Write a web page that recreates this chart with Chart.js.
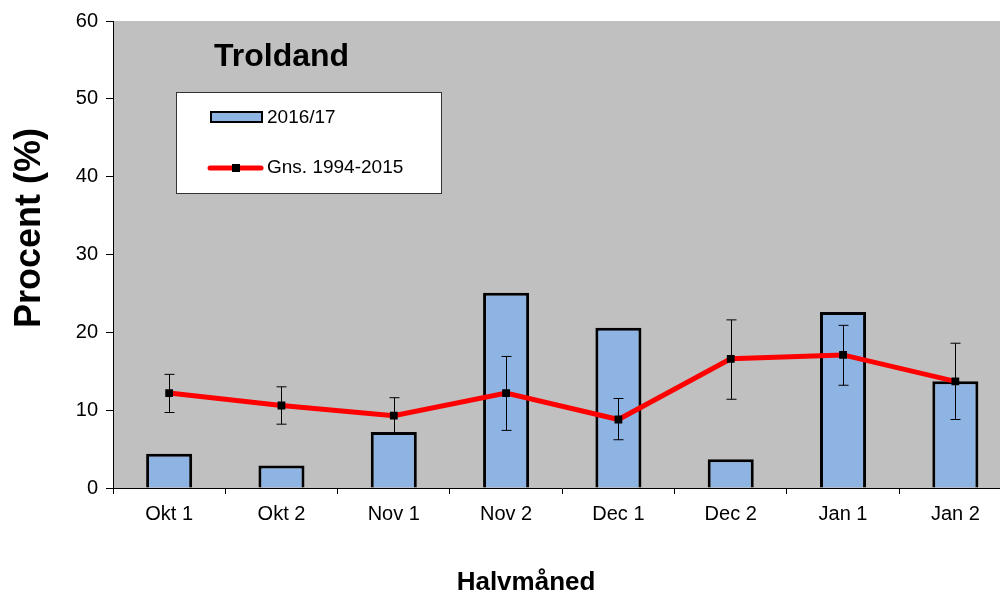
<!DOCTYPE html>
<html>
<head>
<meta charset="utf-8">
<script src="https://cdn.jsdelivr.net/npm/chart.js@4/dist/chart.umd.min.js"></script>
<style>
  html, body { margin: 0; padding: 0; background: #fff; overflow: hidden; }
  #wrap { width: 1017px; height: 593px; }
</style>
</head>
<body>
<div id="wrap"><canvas id="chart" width="1017" height="593"></canvas></div>
<script>
const halvmaaneder = ["Okt 1", "Okt 2", "Nov 1", "Nov 2", "Dec 1", "Dec 2", "Jan 1", "Jan 2"];
const saeson = [4.4, 2.9, 7.2, 25.1, 20.6, 3.7, 22.6, 13.7];
const gennemsnit = [12.2, 10.6, 9.3, 12.2, 8.8, 16.6, 17.1, 13.7];
const fejlLav = [9.7, 8.2, 6.9, 7.4, 6.2, 11.4, 13.2, 8.8];
const fejlHoj = [14.6, 13.0, 11.6, 16.9, 11.5, 21.6, 20.9, 18.6];

const font = "'Liberation Sans', Arial, sans-serif";

// grå baggrund i plotområdet
const baggrund = {
  id: 'baggrund',
  beforeDraw(chart) {
    const { ctx, chartArea: a } = chart;
    ctx.save();
    ctx.fillStyle = '#c0c0c0';
    ctx.fillRect(a.left, a.top, a.right - a.left, a.bottom - a.top);
    ctx.restore();
  }
};

// fejllinjer under linjen
const fejllinjer = {
  id: 'fejllinjer',
  beforeDatasetDraw(chart, args) {
    if (args.index !== 1) return;
    const { ctx } = chart;
    const x = chart.scales.x, y = chart.scales.y;
    ctx.save();
    ctx.strokeStyle = '#000';
    ctx.lineWidth = 1;
    fejlLav.forEach((lav, i) => {
      const px = Math.round(x.getPixelForValue(i)) + 0.5;
      const y1 = y.getPixelForValue(lav), y2 = y.getPixelForValue(fejlHoj[i]);
      ctx.beginPath();
      ctx.moveTo(px, y1); ctx.lineTo(px, y2);
      ctx.moveTo(px - 5, y1); ctx.lineTo(px + 5, y1);
      ctx.moveTo(px - 5, y2); ctx.lineTo(px + 5, y2);
      ctx.stroke();
    });
    ctx.restore();
  }
};

// titler og forklaring
const forklaring = {
  id: 'forklaring',
  afterDraw(chart) {
    const { ctx } = chart;
    const ds = chart.data.datasets;
    ctx.save();
    ctx.fillStyle = '#000';
    ctx.font = 'bold 32px ' + font;
    ctx.textBaseline = 'alphabetic';
    ctx.fillText('Troldand', 214, 66);

    // aksetitler
    ctx.font = 'bold 26px ' + font;
    ctx.textAlign = 'center';
    ctx.fillText('Halvmåned', 526, 590);
    ctx.save();
    ctx.translate(40, 228);
    ctx.rotate(-Math.PI / 2);
    ctx.font = 'bold 36px ' + font;
    ctx.fillText('Procent (%)', 0, 0);
    ctx.restore();
    ctx.textAlign = 'left';

    ctx.fillStyle = '#fff';
    ctx.fillRect(176, 92, 265, 101);
    ctx.strokeStyle = '#333';
    ctx.lineWidth = 1;
    ctx.strokeRect(176.5, 92.5, 265, 101);

    ctx.fillStyle = ds[0].backgroundColor;
    ctx.fillRect(211, 112, 51, 10);
    ctx.strokeStyle = '#000';
    ctx.lineWidth = 2;
    ctx.strokeRect(211, 112, 51, 10);

    ctx.strokeStyle = ds[1].borderColor;
    ctx.lineWidth = 5;
    ctx.lineCap = 'round';
    ctx.beginPath();
    ctx.moveTo(210, 168); ctx.lineTo(261, 168);
    ctx.stroke();
    ctx.fillStyle = '#000';
    ctx.fillRect(232, 164, 8, 8);

    ctx.font = '19px ' + font;
    ctx.textBaseline = 'middle';
    ctx.fillText(ds[0].label, 267, 118);
    ctx.fillText(ds[1].label, 267, 168);
    ctx.restore();
  }
};

new Chart(document.getElementById('chart'), {
  data: {
    labels: halvmaaneder,
    datasets: [
      {
        type: 'bar',
        label: '2016/17',
        data: saeson,
        backgroundColor: '#8eb4e3',
        borderColor: '#000',
        borderWidth: 3,
        barPercentage: 0.41,
        categoryPercentage: 1,
        order: 2
      },
      {
        type: 'line',
        label: 'Gns. 1994-2015',
        data: gennemsnit,
        borderColor: '#ff0000',
        borderWidth: 5,
        tension: 0,
        pointStyle: 'rect',
        pointRadius: 5.5,
        pointBackgroundColor: '#000',
        pointBorderColor: '#000',
        pointBorderWidth: 0,
        order: 1
      }
    ]
  },
  options: {
    responsive: false,
    animation: false,
    layout: { padding: { top: 21, left: 0, right: 0, bottom: 0 } },
    plugins: {
      legend: { display: false },
      tooltip: { enabled: false },
      title: { display: false }
    },
    scales: {
      x: {
        offset: true,
        afterFit(s) { s.height = 105; },
        grid: { display: true, offset: true, drawOnChartArea: false, drawTicks: true, tickLength: 6, color: '#000' },
        border: { display: true, color: '#000', width: 1 },
        ticks: { color: '#000', font: { family: font, size: 20 }, padding: 8 }
      },
      y: {
        min: 0,
        max: 60,
        afterFit(s) { s.width = 113; },
        grid: { display: true, drawOnChartArea: false, drawTicks: true, tickLength: 7, color: '#000' },
        border: { display: true, color: '#000', width: 1 },
        ticks: { stepSize: 10, color: '#000', font: { family: font, size: 20 }, padding: 8 }
      }
    }
  },
  plugins: [baggrund, fejllinjer, forklaring]
});
</script>
</body>
</html>
